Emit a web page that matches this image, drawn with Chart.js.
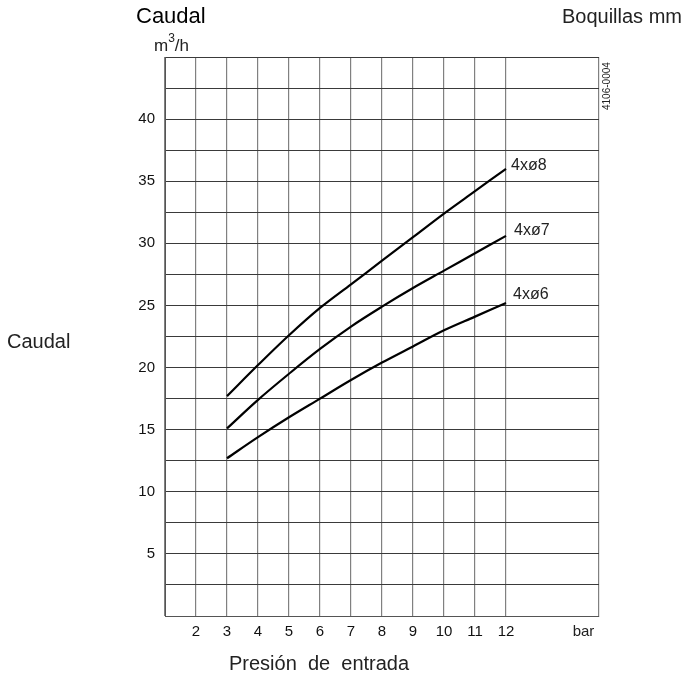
<!DOCTYPE html>
<html>
<head>
<meta charset="utf-8">
<script src="https://cdn.jsdelivr.net/npm/chart.js@4.4.1/dist/chart.umd.min.js"></script>
<style>
  html, body { margin: 0; padding: 0; background: #fff; }
  #wrap { position: relative; width: 690px; height: 679px; }
</style>
</head>
<body>
<div id="wrap"><canvas id="chart" width="690" height="679"></canvas></div>
<script>
// presion de entrada (bar)
var pressure = [3, 4, 5, 6, 7, 8, 9, 10, 11, 12];
// caudal m3/h per nozzle set
var flow8 = [17.7, 20.2, 22.6, 24.8, 26.7, 28.6, 30.5, 32.4, 34.2, 36.0];
var flow7 = [15.1, 17.4, 19.5, 21.5, 23.3, 24.9, 26.4, 27.8, 29.2, 30.6];
var flow6 = [12.7, 14.4, 16.0, 17.5, 19.0, 20.4, 21.7, 23.0, 24.1, 25.2];
var seriesNames = ['4xø8', '4xø7', '4xø6'];

var xTicks = [1, 2, 3, 4, 5, 6, 7, 8, 9, 10, 11, 12, 15];
var xTickLabels = ['', '2', '3', '4', '5', '6', '7', '8', '9', '10', '11', '12', ''];
var yTicks = [0, 2.5, 5, 7.5, 10, 12.5, 15, 17.5, 20, 22.5, 25, 27.5, 30, 32.5, 35, 37.5, 40, 42.5, 45];
var unitPos = 14.5; // where "bar" sits on the x axis

var FONT = '"Liberation Sans", Arial, Helvetica, sans-serif';

function toPoints(ys) {
    return pressure.map(function (p, i) { return { x: p, y: ys[i] }; });
}

function lineSet(label, ys) {
    return {
        label: label,
        data: toPoints(ys),
        borderColor: '#000',
        borderWidth: 2.2,
        pointRadius: 0,
        fill: false,
        tension: 0.35
    };
}

// text around the plot: titles, units, curve labels, drawing number
var textPlugin = {
    id: 'texts',
    afterDraw: function (chart) {
        var ctx = chart.ctx;
        var xs = chart.scales.x, ys = chart.scales.y;
        ctx.save();
        ctx.fillStyle = '#111';
        ctx.textBaseline = 'middle';

        ctx.font = '22px ' + FONT;
        ctx.textAlign = 'left';
        ctx.fillStyle = '#000';
        ctx.fillText('Caudal', 136, 17);
        ctx.fillStyle = '#222';

        ctx.font = '20px ' + FONT;
        ctx.textAlign = 'right';
        ctx.fillText('Boquillas mm', 682, 17);

        ctx.textAlign = 'left';
        ctx.font = '17px ' + FONT;
        ctx.fillText('m', 154, 46);
        var mw = ctx.measureText('m').width;
        ctx.font = '12px ' + FONT;
        ctx.fillText('3', 154 + mw, 39);
        var tw = ctx.measureText('3').width;
        ctx.font = '17px ' + FONT;
        ctx.fillText('/h', 154 + mw + tw, 46);

        ctx.font = '20px ' + FONT;
        ctx.fillText('Caudal', 7, 342);

        ctx.font = '20px ' + FONT;
        ctx.fillText('Presión  de  entrada', 229, 664);

        // x unit
        ctx.font = '15px ' + FONT;
        ctx.textAlign = 'center';
        ctx.fillText('bar', xs.getPixelForValue(unitPos), 632);

        // curve labels
        var offs = [[5, -3], [8, -5], [7, -8]];
        var ends = [flow8, flow7, flow6];
        ctx.textAlign = 'left';
        ctx.font = '16px ' + FONT;
        for (var i = 0; i < ends.length; i++) {
            var last = pressure.length - 1;
            var px = xs.getPixelForValue(pressure[last]) + offs[i][0];
            var py = ys.getPixelForValue(ends[i][last]) + offs[i][1];
            ctx.fillText(seriesNames[i], px, py);
        }

        // drawing number, rotated
        ctx.save();
        ctx.translate(607, 110);
        ctx.rotate(-Math.PI / 2);
        ctx.font = '10px ' + FONT;
        ctx.textAlign = 'left';
        ctx.fillText('4106-0004', 0, 0);
        ctx.restore();

        ctx.restore();
    }
};

var chart = new Chart(document.getElementById('chart'), {
    type: 'line',
    data: {
        datasets: [
            lineSet(seriesNames[0], flow8),
            lineSet(seriesNames[1], flow7),
            lineSet(seriesNames[2], flow6)
        ]
    },
    options: {
        responsive: false,
        animation: false,
        layout: { padding: { left: 0, right: 91, top: 57, bottom: 0 } },
        plugins: {
            legend: { display: false },
            tooltip: { enabled: false }
        },
        scales: {
            x: {
                type: 'linear',
                min: 1,
                max: 15,
                afterBuildTicks: function (scale) {
                    scale.ticks = xTicks.map(function (v) { return { value: v }; });
                },
                afterFit: function (scale) { scale.height = 63; },
                ticks: {
                    autoSkip: false,
                    maxRotation: 0,
                    padding: 7,
                    color: '#111',
                    font: { family: FONT, size: 15 },
                    callback: function (v) {
                        var i = xTicks.indexOf(v);
                        return i >= 0 ? xTickLabels[i] : '';
                    }
                },
                grid: { color: '#808080', lineWidth: 1.2, drawTicks: false },
                border: { color: '#555', width: 1 }
            },
            y: {
                type: 'linear',
                min: 0,
                max: 45,
                afterBuildTicks: function (scale) {
                    scale.ticks = yTicks.map(function (v) { return { value: v }; });
                },
                afterFit: function (scale) { scale.width = 165; },
                ticks: {
                    autoSkip: false,
                    padding: 10,
                    color: '#111',
                    font: { family: FONT, size: 15 },
                    callback: function (v) {
                        return (v % 5 === 0 && v > 0 && v < 45) ? String(v) : '';
                    }
                },
                grid: { color: '#3a3a3a', lineWidth: 1, drawTicks: false },
                border: { color: '#555', width: 1 }
            }
        }
    },
    plugins: [textPlugin]
});
</script>
</body>
</html>
